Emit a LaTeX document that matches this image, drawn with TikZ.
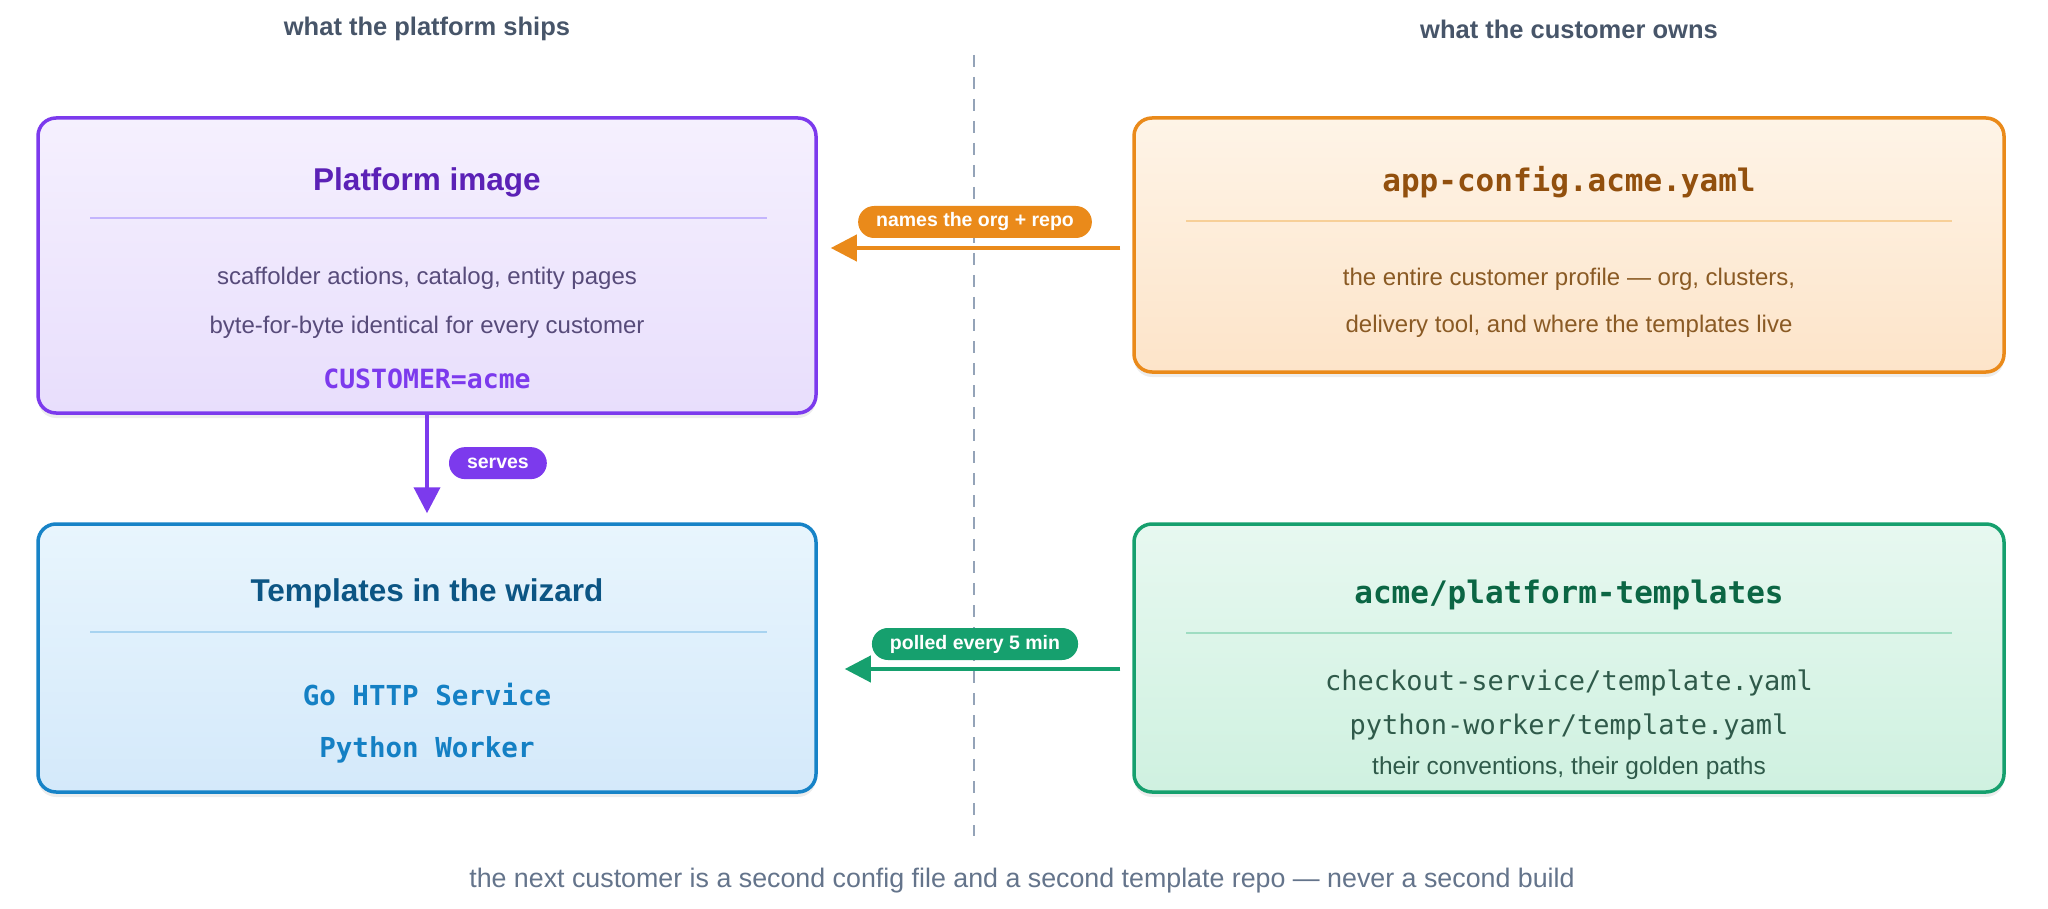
\documentclass[tikz,border=0pt]{standalone}
\usepackage{fontspec}
\setmainfont{Liberation Sans}
\setmonofont{DejaVu Sans Mono}
\usetikzlibrary{arrows.meta, positioning, calc, shadows}

\definecolor{platline}{HTML}{7C3AED}
\definecolor{plattitle}{HTML}{5B21B6}
\definecolor{plattext}{HTML}{574B7A}
\definecolor{plattop}{HTML}{F5F0FE}
\definecolor{platbot}{HTML}{E8DEFC}
\definecolor{platsep}{HTML}{C4B5FD}
\definecolor{cfgline}{HTML}{EA8A1A}
\definecolor{cfgtitle}{HTML}{92500E}
\definecolor{cfgtext}{HTML}{8A5A24}
\definecolor{cfgtop}{HTML}{FEF4E7}
\definecolor{cfgbot}{HTML}{FDE4C9}
\definecolor{cfgsep}{HTML}{F7CF98}
\definecolor{tplline}{HTML}{1783C7}
\definecolor{tpltitle}{HTML}{0C5584}
\definecolor{tpltext}{HTML}{1480C4}
\definecolor{tpltop}{HTML}{E8F5FD}
\definecolor{tplbot}{HTML}{D4E9FA}
\definecolor{tplsep}{HTML}{A8D3F0}
\definecolor{repoline}{HTML}{16A06E}
\definecolor{repotitle}{HTML}{0B6644}
\definecolor{repotext}{HTML}{2F5A4A}
\definecolor{repotop}{HTML}{E7F8F0}
\definecolor{repobot}{HTML}{CFF1E0}
\definecolor{reposep}{HTML}{9FDDC2}
\definecolor{divider}{HTML}{94A3B8}
\definecolor{headtext}{HTML}{475569}
\definecolor{foottext}{HTML}{64748B}

\newcommand{\fsz}[1]{\fontsize{#1}{#1}\selectfont}

\begin{document}
\begin{tikzpicture}[
    x=1pt, y=-1pt,
    box/.style={rectangle, draw, line width=3.5pt, rounded corners=18pt,
        drop shadow={shadow xshift=0pt, shadow yshift=-5pt, opacity=0.07, fill=black}},
    platbox/.style={box, draw=platline, top color=plattop, bottom color=platbot, minimum width=778pt, minimum height=295pt},
    cfgbox/.style={box, draw=cfgline, top color=cfgtop, bottom color=cfgbot, minimum width=870pt, minimum height=254pt},
    tplbox/.style={box, draw=tplline, top color=tpltop, bottom color=tplbot, minimum width=778pt, minimum height=268pt},
    repobox/.style={box, draw=repoline, top color=repotop, bottom color=repobot, minimum width=870pt, minimum height=268pt},
    title/.style={inner sep=0pt, font=\fsz{31.5}\bfseries},
    monotitle/.style={inner sep=0pt, font=\fsz{31}\ttfamily\bfseries},
    body/.style={inner sep=0pt, font=\fsz{24}},
    small/.style={inner sep=0pt, font=\fsz{24.5}},
    monobody/.style={inner sep=0pt, font=\fsz{27}\ttfamily},
    sep/.style={line width=2.5pt},
    head/.style={inner sep=0pt, font=\fsz{25.5}\bfseries, text=headtext},
    pill/.style={rectangle, rounded corners=16pt, minimum height=32pt, inner xsep=18pt, inner ysep=0pt,
        text=white, font=\fsz{19.5}\bfseries},
    arrow/.style={line width=4pt, -{Triangle[length=26pt, width=26pt]}}
]

\fill[white] (0,0) rectangle (2048,909);
\useasboundingbox (0,0) rectangle (2048,909);

% Column headers and divider
\node[head] (lefthead) at (427,29) {what the platform ships};
\node[head] (righthead) at (1569,29) {what the customer owns};
\coordinate (divtop) at (974,55);
\coordinate (divbot) at (974,836);
\draw[divider, line width=2.5pt, dash pattern=on 12pt off 10pt] (divtop) -- (divbot);

% Boxes
\node[platbox] (platform) at (427,265.5) {};
\node[cfgbox] (config) at (1569,245) {};
\node[tplbox] (wizard) at (427,658) {};
\node[repobox] (repo) at (1569,658) {};

% Platform image
\node[title, text=plattitle] (plattitle) at (427,182) {Platform image};
\draw[sep, platsep] (90,218) -- (767,218);
\node[body, text=plattext] (plat1) at (427,278) {scaffolder actions, catalog, entity pages};
\node[body, text=plattext] (plat2) at (427,327) {byte-for-byte identical for every customer};
\node[monobody, font=\fsz{26.5}\ttfamily\bfseries, text=platline] (plat3) at (427,379) {CUSTOMER=acme};

% Customer config
\node[monotitle, text=cfgtitle] (cfgtitle) at (1569,182) {app-config.acme.yaml};
\draw[sep, cfgsep] (1186,221) -- (1952,221);
\node[body, text=cfgtext] (cfg1) at (1569,279) {the entire customer profile — org, clusters,};
\node[body, text=cfgtext] (cfg2) at (1569,326) {delivery tool, and where the templates live};

% Templates in the wizard
\node[title, text=tpltitle] (tpltitle) at (427,593) {Templates in the wizard};
\draw[sep, tplsep] (90,632) -- (767,632);
\node[monobody, font=\fsz{27.5}\ttfamily\bfseries, text=tpltext] (tpl1) at (427,695) {Go HTTP Service};
\node[monobody, font=\fsz{27.5}\ttfamily\bfseries, text=tpltext] (tpl2) at (427,750) {Python Worker};

% Customer template repo
\node[monotitle, text=repotitle] (repotitle) at (1569,595) {acme/platform-templates};
\draw[sep, reposep] (1186,633) -- (1952,633);
\node[monobody, text=repotext] (repo1) at (1569,683) {checkout-service/template.yaml};
\node[monobody, text=repotext] (repo2) at (1569,727) {python-worker/template.yaml};
\node[small, text=repotext] (repo3) at (1569,768) {their conventions, their golden paths};

% Connectors
\draw[arrow, platline, shorten >=9pt] (platform.south) -- (wizard.north)
    node[pill, fill=platline, pos=0.45, right=20pt] (servespill) {serves};
\draw[arrow, cfgline, shorten <=12pt, shorten >=13pt] ([yshift=-3pt]config.west) -- ([yshift=-3pt]config.west -| platform.east)
    node[pill, fill=cfgline, midway, above=8pt] (namespill) {names the org + repo};
\draw[arrow, repoline, shorten <=12pt, shorten >=27pt] ([yshift=-11pt]repo.west) -- ([yshift=-11pt]repo.west -| wizard.east)
    node[pill, fill=repoline, midway, above=7pt] (pollpill) {polled every 5 min};

% Footer
\node[inner sep=0pt, font=\fsz{26.8}, text=foottext] (footer) at (1022,881) {the next customer is a second config file and a second template repo — never a second build};

\end{tikzpicture}
\end{document}
